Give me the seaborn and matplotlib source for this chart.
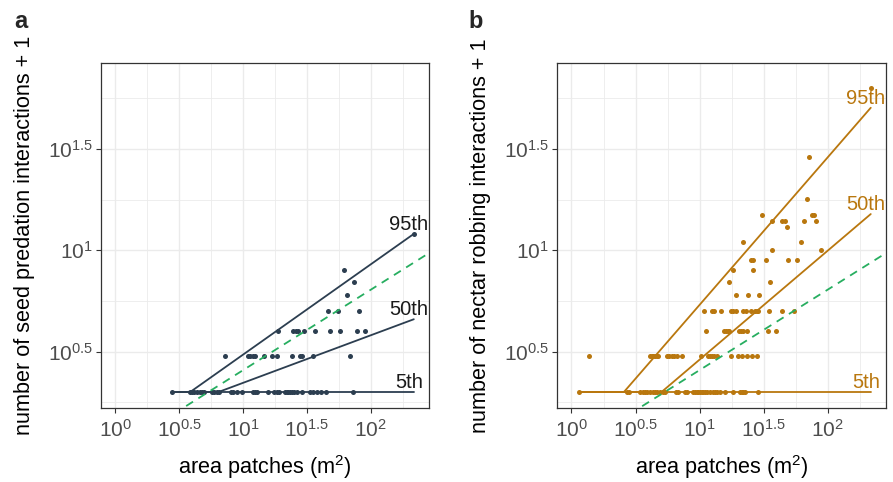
import numpy as np
import pandas as pd
import matplotlib
matplotlib.use("Agg")
import matplotlib.pyplot as plt
import seaborn as sns
from matplotlib.ticker import FixedLocator, FixedFormatter, NullFormatter

# ---------------- data (log10 patch area, grouped by interactions + 1) ----------------
seed_rows = {
    2: [0.443, 0.580, 0.599, 0.617, 0.638, 0.659, 0.677, 0.695, 0.755, 0.768, 0.794, 0.8125,
        0.906, 0.924, 0.955, 0.990, 1.076, 1.094, 1.112, 1.198, 1.245, 1.263, 1.281, 1.328,
        1.341, 1.354, 1.367, 1.380, 1.401, 1.419, 1.458, 1.523, 1.549, 1.576, 1.609, 1.646, 1.857],
    3: [0.859, 1.034, 1.055, 1.076, 1.094, 1.164, 1.224, 1.268, 1.380, 1.445, 1.458, 1.544, 1.836],
    4: [1.276, 1.393, 1.411, 1.432, 1.477, 1.563, 1.682, 1.755, 1.888, 1.953],
    5: [1.667, 1.740, 1.906],
    6: [1.815],
    7: [1.867],
    8: [1.792],
    12: [2.336],
}

robbing_rows = {
    2: [0.059, 0.434, 0.450, 0.534, 0.555, 0.573, 0.591, 0.612, 0.633, 0.651, 0.669, 0.690,
        0.711, 0.729, 0.815, 0.833, 0.885, 0.903, 0.950, 0.963, 0.977, 0.989, 1.002, 1.016,
        1.028, 1.041, 1.055, 1.080, 1.102, 1.120, 1.138, 1.159, 1.198, 1.258, 1.315, 1.328,
        1.341, 1.354, 1.458],
    3: [0.1375, 0.612, 0.625, 0.638, 0.651, 0.664, 0.677, 0.742, 0.760, 0.781, 0.799, 0.820,
        0.859, 1.008, 1.068, 1.080, 1.098, 1.111, 1.132, 1.245, 1.302, 1.328, 1.367, 1.406, 1.445],
    4: [1.049, 1.193, 1.206, 1.219, 1.231, 1.309, 1.323, 1.341, 1.369, 1.531, 1.599],
    5: [1.036, 1.094, 1.111, 1.164, 1.245, 1.263, 1.284, 1.341, 1.359, 1.398, 1.432, 1.445,
        1.458, 1.542, 1.641, 1.737],
    6: [1.281, 1.380, 1.463],
    7: [1.232, 1.549],
    8: [1.263, 1.419],
    9: [1.398, 1.419, 1.516, 1.688, 1.763],
    10: [1.563, 1.948],
    11: [1.338, 1.789],
    13: [1.680],
    14: [1.563, 1.646, 1.667, 1.815, 1.906],
    15: [1.484, 1.875, 1.893],
    18: [1.836],
    29: [1.856],
    63: [2.336],
}

# quantile regression fits: log10(y) = intercept + slope * log10(area), floored at y = 2
quantile_labels = ["5th", "50th", "95th"]
seed_intercepts = [0.301, 0.1115, 0.040]
seed_slopes = [0.0, 0.2348, 0.4457]
robbing_intercepts = [0.301, -0.077, 0.003]
robbing_slopes = [0.0, 0.5377, 0.728]

# reference (dashed) line: log10(y) = ref_intercept + ref_slope * log10(area)
ref_intercept = 0.012
ref_slope = 0.397

x_tick_exponents = [0, 0.5, 1, 1.5, 2]
y_tick_exponents = [0.5, 1, 1.5]
x_minor_exponents = [0.25, 0.75, 1.25, 1.75, 2.25]
y_minor_exponents = [0.25, 0.75, 1.25, 1.75]

seed_color = "#2C3E50"
seed_text_color = "#1A1A1A"
robbing_color = "#B9770E"
ref_color = "#27AE60"

# ---------------- style ----------------
sns.set_theme(style="white")
plt.rcParams["font.family"] = ["Liberation Sans", "DejaVu Sans"]
plt.rcParams["mathtext.fontset"] = "custom"
plt.rcParams["mathtext.rm"] = "Liberation Sans"
plt.rcParams["mathtext.it"] = "Liberation Sans:italic"
plt.rcParams["mathtext.bf"] = "Liberation Sans:bold"


def rows_to_df(rows):
    xs, ys = [], []
    for count, lxs in rows.items():
        for lx in lxs:
            xs.append(10 ** lx)
            ys.append(count)
    return pd.DataFrame({"area": xs, "count": ys})


def fmt(e):
    s = f"{e:g}"
    return r"$\mathregular{10^{" + s + "}}$"


def draw_panel(ax, rows, intercepts, slopes, color, text_color, ylabel):
    df = rows_to_df(rows)
    ax.set_xscale("log")
    ax.set_yscale("log")
    sns.scatterplot(data=df, x="area", y="count", color=color, s=13, linewidth=0,
                    ax=ax, zorder=3, legend=False)
    lx_min = np.log10(df["area"].min())
    lx_max = np.log10(df["area"].max())
    lx = np.linspace(lx_min, lx_max, 600)
    for q, a, b in zip(quantile_labels, intercepts, slopes):
        yy = np.maximum(10 ** (a + b * lx), 2.0)
        sns.lineplot(x=10 ** lx, y=yy, color=color, linewidth=1.3, ax=ax,
                     estimator=None, sort=False, zorder=4)
        ax.annotate(q, (10 ** lx[-1], yy[-1]), xytext=(-3.5, 3), textcoords="offset points",
                    ha="center", va="baseline", color=text_color, fontsize=14.5, zorder=5)
    lr = np.linspace(-0.5, 3.0, 50)
    sns.lineplot(x=10 ** lr, y=10 ** (ref_intercept + ref_slope * lr), color=ref_color,
                 linewidth=1.3, linestyle=(0, (4.5, 3.5)), ax=ax, estimator=None, sort=False,
                 zorder=4)

    ax.set_xlim(10 ** -0.113, 10 ** 2.455)
    ax.set_ylim(10 ** 0.222, 10 ** 1.923)
    ax.xaxis.set_major_locator(FixedLocator([10 ** e for e in x_tick_exponents]))
    ax.xaxis.set_major_formatter(FixedFormatter([fmt(e) for e in x_tick_exponents]))
    ax.yaxis.set_major_locator(FixedLocator([10 ** e for e in y_tick_exponents]))
    ax.yaxis.set_major_formatter(FixedFormatter([fmt(e) for e in y_tick_exponents]))
    ax.xaxis.set_minor_locator(FixedLocator([10 ** e for e in x_minor_exponents]))
    ax.yaxis.set_minor_locator(FixedLocator([10 ** e for e in y_minor_exponents]))
    ax.xaxis.set_minor_formatter(NullFormatter())
    ax.yaxis.set_minor_formatter(NullFormatter())

    ax.set_axisbelow(True)
    ax.grid(which="major", color="#EBEBEB", linewidth=1.0)
    ax.grid(which="minor", color="#EBEBEB", linewidth=0.6)
    for sp in ax.spines.values():
        sp.set_color("#333333")
        sp.set_linewidth(0.9)
    ax.tick_params(which="major", bottom=True, left=True, length=3.5, width=0.8,
                   color="#333333", labelsize=15, labelcolor="#4D4D4D")
    ax.tick_params(axis="x", which="major", pad=4)
    ax.tick_params(axis="y", which="major", pad=2.5)
    ax.tick_params(which="minor", length=0)
    ax.set_xlabel("area patches (m$^{2}$)", fontsize=15.6, color="black", labelpad=9)
    ax.set_ylabel(ylabel, fontsize=15.6, color="black", labelpad=9)


fig = plt.figure(figsize=(8.93, 4.82), dpi=100)
bottom = 1 - 408 / 482
height = (408 - 63.3) / 482
ax_a = fig.add_axes([101 / 893, bottom, 328 / 893, height])
ax_b = fig.add_axes([557 / 893, bottom, 329 / 893, height])

draw_panel(ax_a, seed_rows, seed_intercepts, seed_slopes, seed_color, seed_text_color,
           "number of seed predation interactions + 1")
draw_panel(ax_b, robbing_rows, robbing_intercepts, robbing_slopes, robbing_color,
           robbing_color, "number of nectar robbing interactions + 1")

fig.text(14 / 893, 1 - 28 / 482, "a", fontsize=17, fontweight="bold", va="baseline")
fig.text(468 / 893, 1 - 28 / 482, "b", fontsize=17, fontweight="bold", va="baseline")

fig.savefig("out.png", dpi=100)
